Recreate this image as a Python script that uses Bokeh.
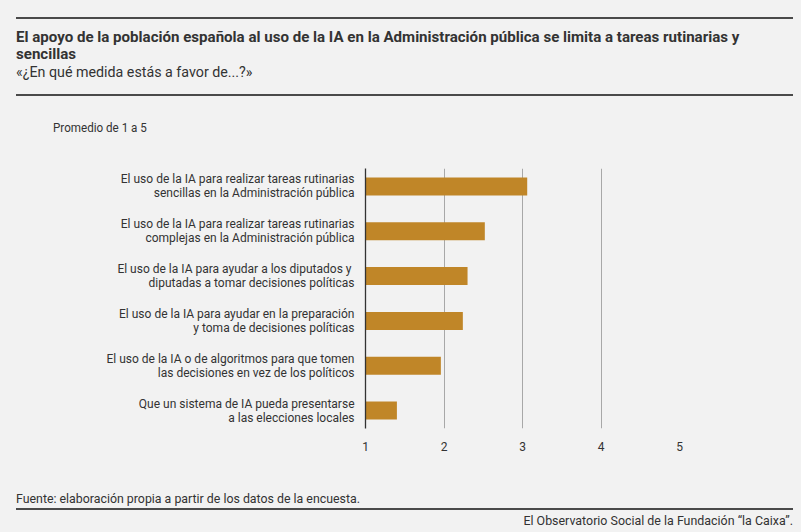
from bokeh.plotting import figure
from bokeh.models import Range1d, FactorRange, FixedTicker, Div
from bokeh.layouts import column
from bokeh.embed import file_html
from bokeh.resources import INLINE

FONT = "Roboto"

title_line1 = "El apoyo de la población española al uso de la IA en la Administración pública se limita a tareas rutinarias y"
title_line2 = "sencillas"
subtitle_text = "«¿En qué medida estás a favor de...?»"
unit_text = "Promedio de 1 a 5"
source_text = "Fuente: elaboración propia a partir de los datos de la encuesta."
credit_text = "El Observatorio Social de la Fundación “la Caixa”."

categories = [
    "El uso de la IA para realizar tareas rutinarias\nsencillas en la Administración pública",
    "El uso de la IA para realizar tareas rutinarias\ncomplejas en la Administración pública",
    "El uso de la IA para ayudar a los diputados y \ndiputadas a tomar decisiones políticas",
    "El uso de la IA para ayudar en la preparación\ny toma de decisiones políticas",
    "El uso de la IA o de algoritmos para que tomen\nlas decisiones en vez de los políticos",
    "Que un sistema de IA pueda presentarse\na las elecciones locales",
]
values = [3.06, 2.52, 2.30, 2.24, 1.96, 1.40]
x_ticks = [1, 2, 3, 4, 5]
grid_ticks = [2, 3, 4, 5]

BG = "#f2f2f2"
TXT = "#333333"
BAR = "#c08628"
RULE = "#4a4a4a"

ff = f"font-family:'{FONT}',sans-serif;color:{TXT};"


def sx(f, origin="left"):
    return f"transform:scaleX({f});transform-origin:{origin} top;white-space:nowrap;"


tstyle = f"font-size:14.5px;font-weight:bold;line-height:17px;{sx(1.04)}"

header = Div(
    text=f"""
<div style="position:relative;width:801px;height:148px;{ff}">
  <div style="position:absolute;left:16px;top:17px;width:777px;height:2px;background:{RULE}"></div>
  <div style="position:absolute;left:16px;top:28.5px;{tstyle}">{title_line1}</div>
  <div style="position:absolute;left:16px;top:45.5px;{tstyle}">{title_line2}</div>
  <div style="position:absolute;left:16px;top:65px;font-size:15px;line-height:15px;{sx(0.95)}">{subtitle_text}</div>
  <div style="position:absolute;left:16px;top:94px;width:777px;height:2px;background:{RULE}"></div>
  <div style="position:absolute;left:53px;top:122px;font-size:12.5px;line-height:12px;{sx(0.93)}">{unit_text}</div>
</div>""",
    width=801, height=148, margin=0,
)

p = figure(
    y_range=FactorRange(factors=categories[::-1], range_padding=-1/30),
    x_range=Range1d(1, 5),
    frame_width=314, frame_height=260,
    min_border_left=365, min_border_right=122,
    min_border_top=20, min_border_bottom=52,
    output_backend="svg", toolbar_location=None,
    background_fill_color=BG, border_fill_color=BG,
    outline_line_color=None, margin=0,
)

p.hbar(y=categories, left=1, right=values, height=0.4, fill_color=BAR, line_color=None)

p.xaxis.ticker = FixedTicker(ticks=x_ticks)
p.xaxis.axis_line_color = None
p.xaxis.major_tick_line_color = None
p.xaxis.minor_tick_line_color = None
p.xaxis.major_label_standoff = 7
p.xaxis.major_label_text_font = FONT
p.xaxis.major_label_text_font_size = "12px"
p.xaxis.major_label_text_color = TXT

p.yaxis.axis_line_color = "#333333"
p.yaxis.axis_line_width = 1.3
p.yaxis.major_tick_line_color = None
p.yaxis.minor_tick_line_color = None
p.yaxis.major_label_standoff = 5
p.yaxis.major_label_text_font = FONT
p.yaxis.major_label_text_font_size = "12px"
p.yaxis.major_label_text_color = TXT
p.yaxis.major_label_text_line_height = 1.0

p.xgrid.ticker = FixedTicker(ticks=grid_ticks)
p.xgrid.grid_line_color = "#a8a8a8"
p.xgrid.grid_line_width = 1
p.ygrid.grid_line_color = None

footer = Div(
    text=f"""
<div style="position:relative;width:801px;height:52px;{ff}">
  <div style="position:absolute;left:16px;top:11.5px;font-size:13.5px;line-height:13px;{sx(0.915)}">{source_text}</div>
  <div style="position:absolute;left:16px;top:28px;width:777px;height:2px;background:{RULE}"></div>
  <div style="position:absolute;right:8px;top:33.5px;font-size:13.5px;line-height:13px;{sx(0.92, 'right')}">{credit_text}</div>
</div>""",
    width=801, height=52, margin=0,
)

layout = column(header, p, footer, spacing=0)
layout.background = BG

html = file_html(layout, INLINE)
html = html.replace("<body>", f'<body style="background:{BG};">', 1)
open("out.html", "w").write(html)
